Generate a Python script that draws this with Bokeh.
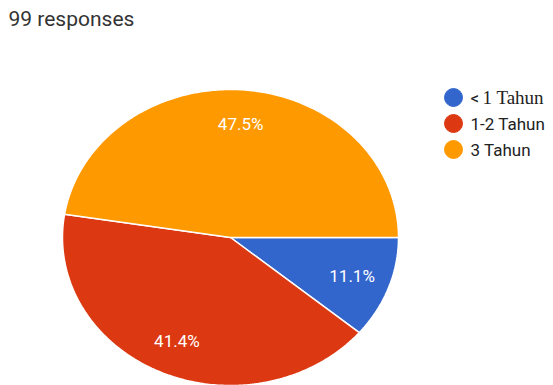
import numpy as np
from bokeh.plotting import figure
from bokeh.models import Range1d, Label
from bokeh.embed import file_html
from bokeh.resources import INLINE
from bokeh.core.properties import value

# ---- data ----
categories = ["< 1 Tahun", "1-2 Tahun", "3 Tahun"]
percent = [11.1, 41.4, 47.5]
colors = ["#3366cc", "#dc3912", "#ff9900"]
title_text = "99 responses"

# ---- layout ----
W, H = 553, 385
CX, CY = 230, 237          # pie centre in pixels (from top)
RX, RY = 168, 148          # pie radii in pixels
X0, X1 = -CX / RX, (W - CX) / RX
Y1, Y0 = CY / RY, -(H - CY) / RY

def px2x(px):
    return X0 + px * (X1 - X0) / W

def py2y(py):
    return Y1 - py * (Y1 - Y0) / H

p = figure(width=W, height=H, output_backend="svg", toolbar_location=None,
           x_range=Range1d(X0, X1), y_range=Range1d(Y0, Y1),
           x_axis_location=None, y_axis_location=None, min_border=0)
p.grid.visible = False
p.outline_line_color = None
p.background_fill_color = "white"
p.border_fill_color = "white"

total = sum(percent)
frac = np.array(percent) / total
cum = np.concatenate([[0], np.cumsum(frac)])
xs, ys, lx, ly = [], [], [], []
for i in range(len(percent)):
    a0 = -2 * np.pi * cum[i]
    a1 = -2 * np.pi * cum[i + 1]
    t = np.linspace(a0, a1, 200)
    xs.append(np.concatenate([[0], np.cos(t), [0]]))
    ys.append(np.concatenate([[0], np.sin(t), [0]]))
    am = (a0 + a1) / 2
    lx.append(0.77 * np.cos(am))
    ly.append(0.77 * np.sin(am))

p.patches(xs, ys, fill_color=colors, line_color="white", line_width=1.5)
p.text(x=lx, y=ly, text=[f"{v:.1f}%" for v in percent], text_color="white",
       text_font=value("Roboto"), text_font_size="17px",
       text_align="center", text_baseline="middle")

# title
p.add_layout(Label(x=8, y=H - 18, x_units="screen", y_units="screen",
                   text=title_text, text_font="Roboto", text_font_size="21px",
                   text_color="#333333", text_baseline="middle"))

# legend
for i, (cat, col) in enumerate(zip(categories, colors)):
    ypx = 97 + 26 * i
    p.scatter(x=[px2x(453)], y=[py2y(ypx)], size=18, marker="circle",
              fill_color=col, line_color=col)
    if cat.startswith("<"):
        p.add_layout(Label(x=470, y=H - ypx, x_units="screen", y_units="screen",
                           text="<", text_font="Roboto", text_font_size="17px",
                           text_color="#222222", text_baseline="middle"))
        p.add_layout(Label(x=482, y=H - ypx, x_units="screen", y_units="screen",
                           text=cat[2:], text_font="Liberation Serif",
                           text_font_size="19px", text_color="#222222",
                           text_baseline="middle"))
    else:
        p.add_layout(Label(x=470, y=H - ypx, x_units="screen", y_units="screen",
                           text=cat, text_font="Roboto", text_font_size="17px",
                           text_color="#222222", text_baseline="middle"))

open("out.html", "w").write(file_html(p, INLINE))
